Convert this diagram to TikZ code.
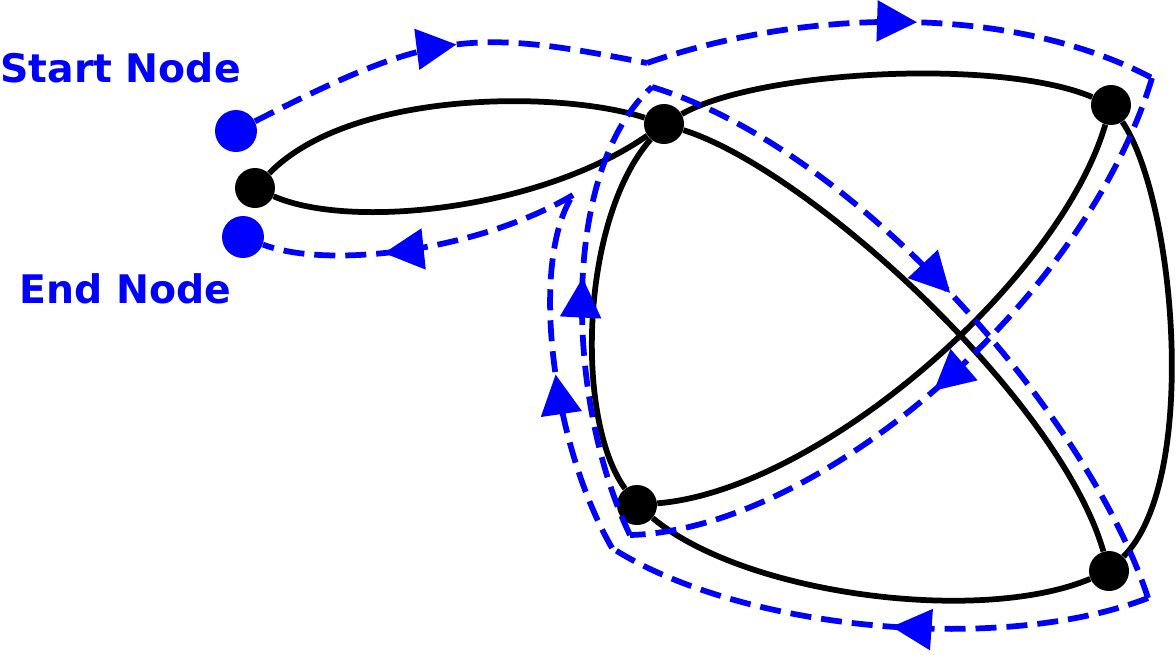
\documentclass[tikz,border=0pt]{standalone}
\usepackage{fontspec}
\setmainfont{DejaVu Sans}
\usetikzlibrary{arrows.meta,decorations.markings}

\begin{document}
\begin{tikzpicture}[x=0.02cm,y=-0.02cm,
    vertex/.style={circle,fill=black,inner sep=0pt,minimum size=0.8cm},
    endpt/.style={circle,fill=blue,inner sep=0pt,minimum size=0.84cm},
    edge/.style={line width=0.115cm},
    walk/.style={blue,line width=0.115cm,dash pattern=on 0.42cm off 0.2cm},
    midarrow/.style={postaction={decorate},decoration={markings,
        mark=at position #1 with {\arrow{Triangle[length=0.8cm,width=0.8cm]}}}},
    midarrow/.default=0.5,
    lbl/.style={blue,font=\bfseries\fontsize{22.4}{27}\selectfont,inner sep=0pt,anchor=base west}]
    \useasboundingbox (0,0) rectangle (1176,654);
    % graph
    \node[vertex] (a) at (255,188) {};
    \node[vertex] (b) at (664,124) {};
    \node[vertex] (c) at (1111,105) {};
    \node[vertex] (d) at (637,505) {};
    \node[vertex] (e) at (1109,571) {};
    \draw[edge] (a) .. controls (350,90) and (560,90) .. (b);
    \draw[edge] (a) .. controls (350,230) and (540,210) .. (b);
    \draw[edge] (b) .. controls (760,70) and (1000,58) .. (c);
    \draw[edge] (c) .. controls (1175,200) and (1200,480) .. (e);
    \draw[edge] (d) .. controls (745,595) and (980,625) .. (e);
    \draw[edge] (c) .. controls (1060,280) and (820,490) .. (d);
    \draw[edge] (b) .. controls (810,170) and (1060,400) .. (e);
    \draw[edge] (b) .. controls (580,220) and (575,420) .. (d);
    % walk
    \node[endpt] (start) at (236,131) {};
    \node[endpt] (stop) at (243,237) {};
    \node[lbl] (startlbl) at (0,82) {Start Node};
    \node[lbl] (stoplbl) at (19,303) {End Node};
    \coordinate (p1) at (647,63);
    \coordinate (p2) at (1152,78);
    \coordinate (p3) at (630,535);
    \coordinate (p4) at (652,87);
    \coordinate (p5) at (1148,598);
    \coordinate (p6) at (612,548);
    \coordinate (p7) at (573,195);
    \draw[walk,midarrow=0.53] (start) .. controls (432,31) and (470,28) .. (p1);
    \draw[walk,midarrow=0.53] (p1) .. controls (817,4) and (1020,8) .. (p2);
    \draw[walk,midarrow=0.53] (p2) .. controls (1085,300) and (820,530) .. (p3);
    \draw[walk,midarrow=0.56] (p3) .. controls (565,400) and (560,170) .. (p4);
    \draw[walk,midarrow] (p4) .. controls (860,150) and (1090,420) .. (p5);
    \draw[walk,midarrow=0.47] (p5) .. controls (1000,655) and (740,630) .. (p6);
    \draw[walk,midarrow=0.5] (p6) .. controls (550,440) and (530,260) .. (p7);
    \draw[walk,midarrow=0.62] (p7) .. controls (480,250) and (330,270) .. (stop);
\end{tikzpicture}
\end{document}
